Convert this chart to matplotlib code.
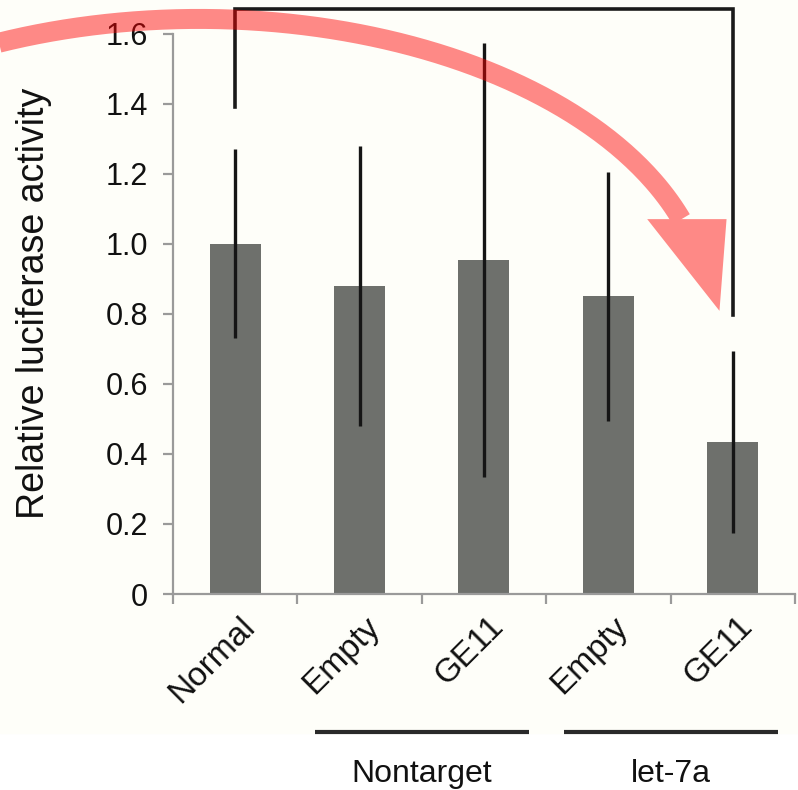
import numpy as np
import matplotlib
matplotlib.use('Agg')
import matplotlib.pyplot as plt
from matplotlib.patches import Polygon, Rectangle

plt.rcParams['font.family'] = ['Liberation Sans', 'DejaVu Sans']

# Data
categories = ['Normal', 'Empty', 'GE11', 'Empty', 'GE11']
values = [1.00, 0.88, 0.955, 0.85, 0.435]
errors = [0.27, 0.40, 0.62, 0.355, 0.26]
groups = ['Nontarget', 'let-7a']
group_span = [(1, 2), (3, 4)]
yticks = [0, 0.2, 0.4, 0.6, 0.8, 1.0, 1.2, 1.4, 1.6]
ytick_labels = ['0', '0.2', '0.4', '0.6', '0.8', '1.0', '1.2', '1.4', '1.6']

fig = plt.figure(figsize=(7.98, 7.90), dpi=100, facecolor='white')
# cream panel behind the chart part
fig.patches.append(Rectangle((0, 0.072), 1, 0.928, transform=fig.transFigure,
                             color='#fefef9', zorder=-10))

ax = fig.add_axes([0.2168, 0.2481, 0.7794, 0.7089])
ax.set_facecolor('none')

x = np.arange(len(categories))
ax.bar(x, values, width=0.41, color='#6e706c', zorder=2)
ax.errorbar(x, values, yerr=errors, fmt='none', ecolor='#151515',
            elinewidth=2.4, capsize=0, zorder=3, clip_on=False)

ax.set_xlim(-0.5, 4.5)
ax.set_ylim(0, 1.6)

# axis styling
for s in ['top', 'right']:
    ax.spines[s].set_visible(False)
for s in ['left', 'bottom']:
    ax.spines[s].set_color('#9a9a9a')
    ax.spines[s].set_linewidth(1.6)
ax.set_yticks(yticks, ytick_labels)
ax.tick_params(axis='y', length=7, width=1.6, color='#9a9a9a', pad=11,
               labelsize=22, labelcolor='#111111')
ax.set_xticks(np.arange(-0.5, 5, 1))
ax.tick_params(axis='x', length=7, width=1.6, color='#9a9a9a', labelbottom=False)

# rotated category labels
for i, lab in enumerate(categories):
    ax.annotate(lab, xy=(i, 0), xycoords=('data', 'axes fraction'),
                xytext=(11, -20), textcoords='offset points',
                ha='right', va='center', rotation=45, rotation_mode='anchor',
                fontsize=24, color='#111111')

fig.text(34 / 798, 1 - 303 / 790, 'Relative luciferase activity', rotation=90,
         ha='center', va='center', fontsize=27, color='#111111')

# group lines and labels
for name, (a, b) in zip(groups, group_span):
    ax.plot([a - 0.36, b + 0.36], [-0.395, -0.395], color='#2a2a2a', lw=3,
            clip_on=False, solid_capstyle='butt')
    ax.text((a + b) / 2, -0.515, name, ha='center', va='center', fontsize=23,
            color='#111111', clip_on=False)

# significance bracket
ax.plot([0, 0, 4, 4], [1.39, 1.671, 1.671, 0.797], color='#1a1a1a', lw=2.6,
        clip_on=False, zorder=4, solid_joinstyle='miter')

# curved red arrow
t = np.deg2rad(np.linspace(125, 19, 200))
ax.plot(-0.291 + 4.10 * np.cos(t), 0.794 + 0.849 * np.sin(t), color='red',
        alpha=0.46, lw=14.4, solid_capstyle='butt', clip_on=False, zorder=10)
ax.add_patch(Polygon([(3.312, 1.071), (3.950, 1.071), (3.893, 0.809)],
                     closed=True, color='#fe8986', lw=0, clip_on=False, zorder=11))

fig.savefig('out.png', dpi=100, facecolor=fig.get_facecolor())
